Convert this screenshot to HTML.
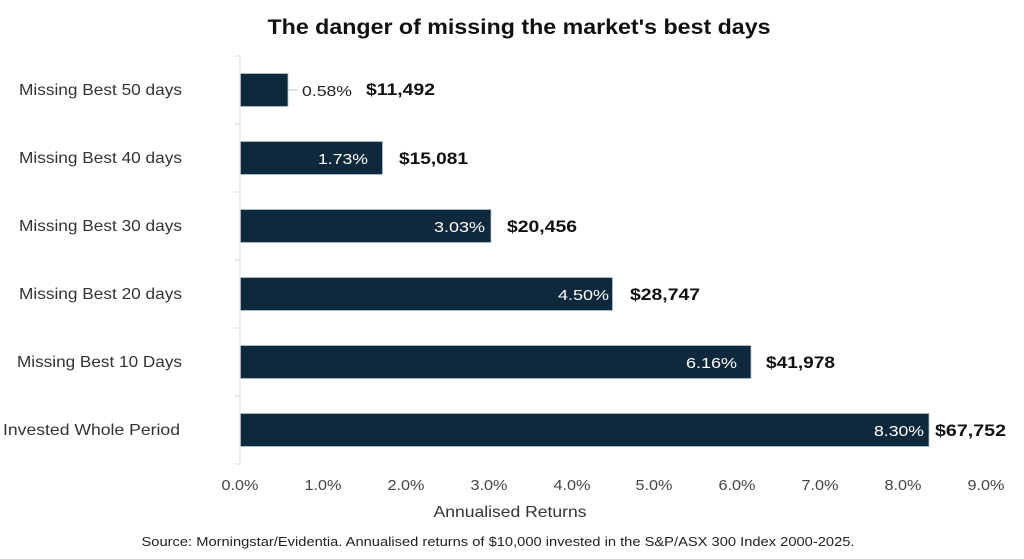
<!DOCTYPE html>
<html>
<head>
<meta charset="utf-8">
<style>
html,body{margin:0;padding:0;background:#fff;}
svg{display:block;}
text{font-family:"Liberation Sans",sans-serif;}
</style>
</head>
<body>
<svg width="1024" height="559" viewBox="0 0 1024 559" xmlns="http://www.w3.org/2000/svg">
<rect width="1024" height="559" fill="#fff"/>
<text x="519" y="34" text-anchor="middle" font-size="21" font-weight="bold" fill="#111" textLength="503" lengthAdjust="spacingAndGlyphs">The danger of missing the market's best days</text>

<!-- axis -->
<line x1="240" y1="56" x2="240" y2="464" stroke="#d9d9d9" stroke-width="1"/>
<g stroke="#d9d9d9" stroke-width="1">
<line x1="234" y1="56" x2="240" y2="56"/>
<line x1="234" y1="124" x2="240" y2="124"/>
<line x1="234" y1="192" x2="240" y2="192"/>
<line x1="234" y1="260" x2="240" y2="260"/>
<line x1="234" y1="328" x2="240" y2="328"/>
<line x1="234" y1="396" x2="240" y2="396"/>
<line x1="234" y1="464" x2="240" y2="464"/>
</g>

<!-- bars -->
<g fill="#0f293c" stroke="#b5c1ca" stroke-width="0.8">
<rect x="240.5" y="73.5" width="47.5" height="33"/>
<rect x="240.5" y="141.5" width="142" height="33"/>
<rect x="240.5" y="209.5" width="250.5" height="33"/>
<rect x="240.5" y="277.5" width="372" height="33"/>
<rect x="240.5" y="345.5" width="510.5" height="33"/>
<rect x="240.5" y="413.5" width="688.5" height="33"/>
</g>
<line x1="288" y1="90" x2="298" y2="90" stroke="#bfbfbf" stroke-width="1"/>

<!-- category labels -->
<g font-size="16" fill="#333" text-anchor="end">
<text x="182" y="95" textLength="163" lengthAdjust="spacingAndGlyphs">Missing Best 50 days</text>
<text x="182" y="163" textLength="163" lengthAdjust="spacingAndGlyphs">Missing Best 40 days</text>
<text x="182" y="231" textLength="163" lengthAdjust="spacingAndGlyphs">Missing Best 30 days</text>
<text x="182" y="299" textLength="163" lengthAdjust="spacingAndGlyphs">Missing Best 20 days</text>
<text x="182" y="367" textLength="165" lengthAdjust="spacingAndGlyphs">Missing Best 10 Days</text>
<text x="180" y="435" textLength="177" lengthAdjust="spacingAndGlyphs">Invested Whole Period</text>
</g>

<!-- percent labels -->
<g font-size="15">
<text x="302" y="96" fill="#222" textLength="50" lengthAdjust="spacingAndGlyphs">0.58%</text>
<text x="318" y="164" fill="#fff" textLength="50" lengthAdjust="spacingAndGlyphs">1.73%</text>
<text x="434" y="232" fill="#fff" textLength="51" lengthAdjust="spacingAndGlyphs">3.03%</text>
<text x="558" y="300" fill="#fff" textLength="51" lengthAdjust="spacingAndGlyphs">4.50%</text>
<text x="686" y="368" fill="#fff" textLength="51" lengthAdjust="spacingAndGlyphs">6.16%</text>
<text x="874" y="436" fill="#fff" textLength="50" lengthAdjust="spacingAndGlyphs">8.30%</text>
</g>

<!-- value labels -->
<g font-size="17" font-weight="bold" fill="#111">
<text x="366" y="95" textLength="69" lengthAdjust="spacingAndGlyphs">$11,492</text>
<text x="399" y="164" textLength="69" lengthAdjust="spacingAndGlyphs">$15,081</text>
<text x="507" y="232" textLength="70" lengthAdjust="spacingAndGlyphs">$20,456</text>
<text x="630" y="300" textLength="70" lengthAdjust="spacingAndGlyphs">$28,747</text>
<text x="766" y="368" textLength="69" lengthAdjust="spacingAndGlyphs">$41,978</text>
<text x="935" y="436" textLength="71" lengthAdjust="spacingAndGlyphs">$67,752</text>
</g>

<!-- x tick labels -->
<g font-size="15" fill="#444" text-anchor="middle">
<text x="240" y="490" textLength="37" lengthAdjust="spacingAndGlyphs">0.0%</text>
<text x="323" y="490" textLength="37" lengthAdjust="spacingAndGlyphs">1.0%</text>
<text x="406" y="490" textLength="37" lengthAdjust="spacingAndGlyphs">2.0%</text>
<text x="489" y="490" textLength="37" lengthAdjust="spacingAndGlyphs">3.0%</text>
<text x="572" y="490" textLength="37" lengthAdjust="spacingAndGlyphs">4.0%</text>
<text x="654" y="490" textLength="37" lengthAdjust="spacingAndGlyphs">5.0%</text>
<text x="737" y="490" textLength="37" lengthAdjust="spacingAndGlyphs">6.0%</text>
<text x="820" y="490" textLength="37" lengthAdjust="spacingAndGlyphs">7.0%</text>
<text x="903" y="490" textLength="37" lengthAdjust="spacingAndGlyphs">8.0%</text>
<text x="986" y="490" textLength="37" lengthAdjust="spacingAndGlyphs">9.0%</text>
</g>

<text x="510" y="517" text-anchor="middle" font-size="16" fill="#333" textLength="153" lengthAdjust="spacingAndGlyphs">Annualised Returns</text>
<text x="498" y="546" text-anchor="middle" font-size="13" fill="#222" textLength="713" lengthAdjust="spacingAndGlyphs">Source: Morningstar/Evidentia. Annualised returns of $10,000 invested in the S&amp;P/ASX 300 Index 2000-2025.</text>
</svg>
</body>
</html>
